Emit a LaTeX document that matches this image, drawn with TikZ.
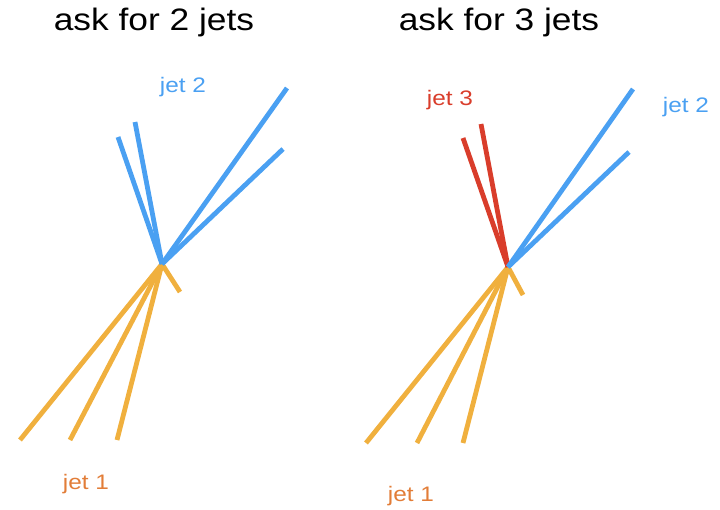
\documentclass[tikz,border=0pt]{standalone}
\usepackage{fontspec}
\setmainfont{Liberation Sans}
\definecolor{jblue}{HTML}{4AA0F2}
\definecolor{jorange}{HTML}{F0B03E}
\definecolor{jlabel}{HTML}{E27D38}
\definecolor{jred}{HTML}{D93D2B}
\tikzset{
  track/.style={line width=4.8pt},
  title/.style={font=\fontsize{31}{36}\selectfont, text=black, inner sep=0pt},
  jetlabel/.style={font=\fontsize{21}{25}\selectfont, inner sep=0pt},
}
\begin{document}
\begin{tikzpicture}[x=1pt,y=-1pt]
\useasboundingbox (0,0) rectangle (720,509);
% titles
\node[title] (t1) at (154,22) {\scalebox{1.14}[1]{ask for 2 jets}};
\node[title] (t2) at (499,22) {\scalebox{1.14}[1]{ask for 3 jets}};
% ---- left panel ----
\coordinate (v1) at (162,264);
\coordinate (a1) at (20,440);
\coordinate (a2) at (70,440);
\coordinate (a3) at (117,440);
\coordinate (a4) at (180,292);
\coordinate (b1) at (118,137);
\coordinate (b2) at (135,122);
\coordinate (b3) at (287,88);
\coordinate (b4) at (283,149);
\foreach \p in {a1,a2,a3,a4} \draw[track, jorange] (v1) -- (\p);
\foreach \p in {b1,b2,b3,b4} \draw[track, jblue] (v1) -- (\p);
\node[jetlabel, text=jblue] (l2) at (183,87) {\scalebox{1.16}[1]{jet 2}};
\node[jetlabel, text=jlabel] (l1) at (86,484) {\scalebox{1.16}[1]{jet 1}};
% ---- right panel ----
\coordinate (v2) at (508,267);
\coordinate (c1) at (366,443);
\coordinate (c2) at (417,443);
\coordinate (c3) at (463,443);
\coordinate (c4) at (523,295);
\coordinate (r1) at (463,138);
\coordinate (r2) at (481,124);
\coordinate (d1) at (633,89);
\coordinate (d2) at (629,152);
\foreach \p in {c1,c2,c3,c4} \draw[track, jorange] (v2) -- (\p);
\foreach \p in {r1,r2} \draw[track, jred] (v2) -- (\p);
\foreach \p in {d1,d2} \draw[track, jblue] (v2) -- (\p);
\node[jetlabel, text=jred] (l3) at (450,100) {\scalebox{1.16}[1]{jet 3}};
\node[jetlabel, text=jblue] (l4) at (686,107) {\scalebox{1.16}[1]{jet 2}};
\node[jetlabel, text=jlabel] (l5) at (411,496) {\scalebox{1.16}[1]{jet 1}};
\end{tikzpicture}
\end{document}
